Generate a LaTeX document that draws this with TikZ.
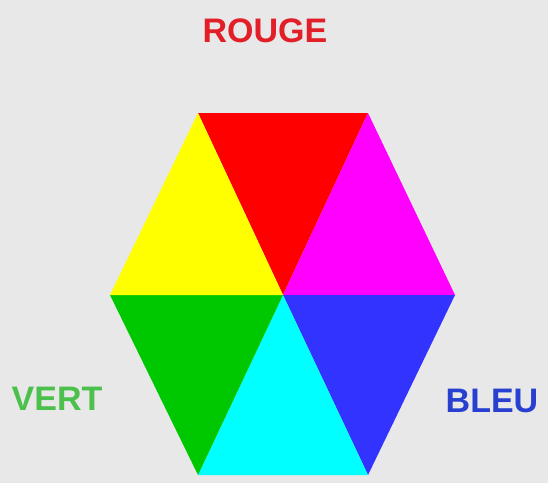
\documentclass[tikz,border=0pt]{standalone}
\usepackage{fontspec}
\setmainfont{Liberation Sans}
\definecolor{bggray}{RGB}{232,232,232}
\definecolor{hxred}{RGB}{255,0,0}
\definecolor{hxyellow}{RGB}{255,255,0}
\definecolor{hxmagenta}{RGB}{255,0,255}
\definecolor{hxgreen}{RGB}{0,200,0}
\definecolor{hxblue}{RGB}{51,51,255}
\definecolor{hxcyan}{RGB}{0,255,255}
\definecolor{lbred}{RGB}{226,30,40}
\definecolor{lbgreen}{RGB}{76,192,76}
\definecolor{lbblue}{RGB}{40,64,208}
\usetikzlibrary{positioning}

\begin{document}
\begin{tikzpicture}[x=1pt,y=-1pt,
    colname/.style={font=\fontsize{34}{34}\selectfont\bfseries,inner sep=0pt}]
  \fill[bggray] (0,0) rectangle (548,483);
  \useasboundingbox (0,0) rectangle (548,483);
  % hexagon corners
  \coordinate (c)  at (283,295);
  \coordinate (tl) at (198,113);
  \coordinate (tr) at (368,113);
  \coordinate (r)  at (455,295);
  \coordinate (br) at (368,475);
  \coordinate (bl) at (198,475);
  \coordinate (l)  at (110,295);
  \fill[hxred]     (tl)--(tr)--(c)--cycle;
  \fill[hxmagenta] (tr)--(r)--(c)--cycle;
  \fill[hxblue]    (r)--(br)--(c)--cycle;
  \fill[hxcyan]    (br)--(bl)--(c)--cycle;
  \fill[hxgreen]   (bl)--(l)--(c)--cycle;
  \fill[hxyellow]  (l)--(tl)--(c)--cycle;
  % labels
  \node[colname,text=lbred]   (rouge) at (265,31)  {ROUGE};
  \node[colname,text=lbgreen] (vert)  at (57,399)  {VERT};
  \node[colname,text=lbblue]  (bleu)  at (492,401) {BLEU};
\end{tikzpicture}
\end{document}
